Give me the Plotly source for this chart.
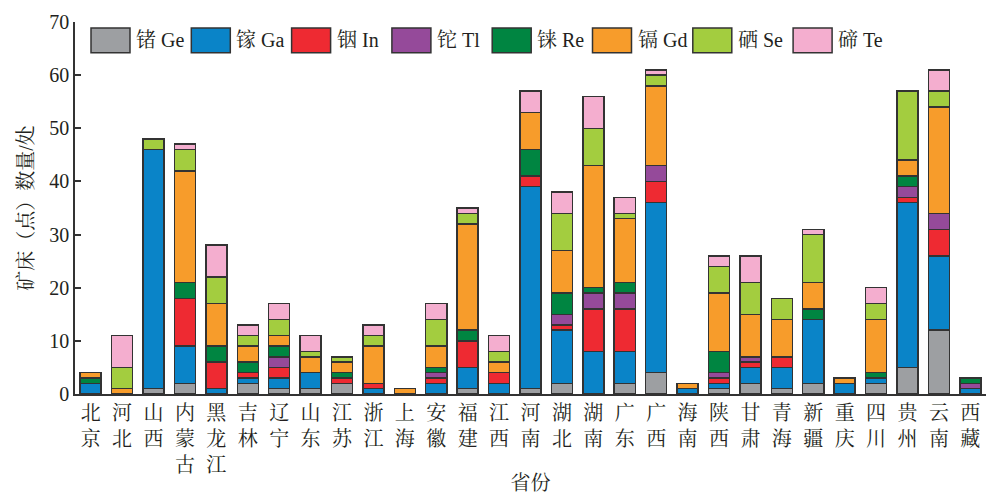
import plotly.graph_objects as go

# Provinces (x categories)
provinces = ["北京", "河北", "山西", "内蒙古", "黑龙江", "吉林", "辽宁", "山东", "江苏", "浙江",
             "上海", "安徽", "福建", "江西", "河南", "湖北", "湖南", "广东", "广西", "海南",
             "陕西", "甘肃", "青海", "新疆", "重庆", "四川", "贵州", "云南", "西藏"]

# Number of deposits (points) per element, stacked bottom to top
ge = [0, 0, 1, 2, 0, 2, 1, 1, 2, 0, 0, 0, 1, 0, 1, 2, 0, 2, 4, 0, 1, 2, 1, 2, 0, 2, 5, 12, 0]
ga = [2, 0, 45, 7, 1, 1, 2, 3, 0, 1, 0, 2, 4, 2, 38, 10, 8, 6, 32, 1, 1, 3, 4, 12, 2, 1, 31, 14, 1]
in_ = [0, 0, 0, 9, 5, 1, 2, 0, 1, 1, 0, 1, 5, 2, 2, 1, 8, 8, 4, 0, 1, 1, 2, 0, 0, 0, 1, 5, 0]
tl = [0, 0, 0, 0, 0, 0, 2, 0, 0, 0, 0, 1, 0, 0, 0, 2, 3, 3, 3, 0, 1, 1, 0, 0, 0, 0, 2, 3, 1]
re = [1, 0, 0, 3, 3, 2, 2, 0, 1, 0, 0, 1, 2, 0, 5, 4, 1, 2, 0, 0, 4, 0, 0, 2, 0, 1, 2, 0, 1]
gd = [1, 1, 0, 21, 8, 3, 2, 3, 2, 7, 1, 4, 20, 2, 7, 8, 23, 12, 15, 1, 11, 8, 7, 5, 1, 10, 3, 20, 0]
se = [0, 4, 2, 4, 5, 2, 3, 1, 1, 2, 0, 5, 2, 2, 0, 7, 7, 1, 2, 0, 5, 6, 4, 9, 0, 3, 13, 3, 0]
te = [0, 6, 0, 1, 6, 2, 3, 3, 0, 2, 0, 3, 1, 3, 4, 4, 6, 3, 1, 0, 2, 5, 0, 1, 0, 3, 0, 4, 0]

series_names = ["锗 Ge", "镓 Ga", "铟 In", "铊 Tl", "铼 Re", "镉 Gd", "硒 Se", "碲 Te"]
series_values = [ge, ga, in_, tl, re, gd, se, te]
series_colors = ["#9D9FA2", "#0A84C8", "#EE2A32", "#954A9A", "#008541", "#F79C2B", "#A3CD3F", "#F4AECF"]

y_ticks = [0, 10, 20, 30, 40, 50, 60, 70]

FONT = "Liberation Serif, Noto Serif CJK SC, Noto Sans CJK SC, serif"
TEXT_COLOR = "#231F20"
EDGE = "#333333"

fig = go.Figure()
for name, vals, color in zip(series_names, series_values, series_colors):
    fig.add_trace(go.Bar(
        x=provinces,
        y=[v if v else None for v in vals],
        name=name,
        marker=dict(color=color, line=dict(color=EDGE, width=1.5)),
        showlegend=False,
    ))

# Vertical (stacked-character) tick labels
tick_text = ["<br>".join(list(p)) for p in provinces]

# Figure geometry in pixels
W, H = 986, 494
ML, MR, MT, MB = 75, 0, 22, 97
PW, PH = W - ML - MR, H - MT - MB


def px_x(px):
    return (px - ML) / PW


def px_y(py):
    return (H - MB - py) / PH


# Legend: large boxed swatches followed by labels
shapes = []
annotations = []
sw_left, sw_step, sw_w = 91, 100.3, 39
sw_top, sw_bot = 28, 53
for i, (name, color) in enumerate(zip(series_names, series_colors)):
    x0 = sw_left + sw_step * i
    shapes.append(dict(type="rect", xref="paper", yref="paper",
                       x0=px_x(x0), x1=px_x(x0 + sw_w), y0=px_y(sw_bot), y1=px_y(sw_top),
                       fillcolor=color, line=dict(color=EDGE, width=1.5), layer="above"))
    annotations.append(dict(xref="paper", yref="paper", x=px_x(x0 + sw_w + 4),
                            y=px_y((sw_top + sw_bot) / 2), xanchor="left", yanchor="middle",
                            text=name, showarrow=False,
                            font=dict(family=FONT, size=20, color=TEXT_COLOR)))

fig.update_layout(
    barmode="stack",
    bargap=0.33,
    width=W, height=H,
    margin=dict(l=ML, r=MR, t=MT, b=MB),
    paper_bgcolor="white",
    plot_bgcolor="white",
    font=dict(family=FONT, size=20, color=TEXT_COLOR),
    shapes=shapes,
    annotations=annotations,
    xaxis=dict(
        tickmode="array", tickvals=provinces, ticktext=tick_text,
        showline=True, linecolor=EDGE, linewidth=1.5,
        ticks="", showgrid=False, zeroline=False,
        tickfont=dict(size=20),
        title=dict(text="省份", font=dict(size=20), standoff=4),
        range=[-0.5, len(provinces) - 0.5],
    ),
    yaxis=dict(
        range=[0, 70], tickmode="array", tickvals=y_ticks,
        showline=True, linecolor=EDGE, linewidth=1.5,
        ticks="inside", ticklen=6, tickwidth=1.5, tickcolor=EDGE,
        showgrid=False, zeroline=False,
        tickfont=dict(size=20),
        title=dict(text="矿床（点）数量/处", font=dict(size=20), standoff=10),
    ),
)

fig.write_html("out.html")
